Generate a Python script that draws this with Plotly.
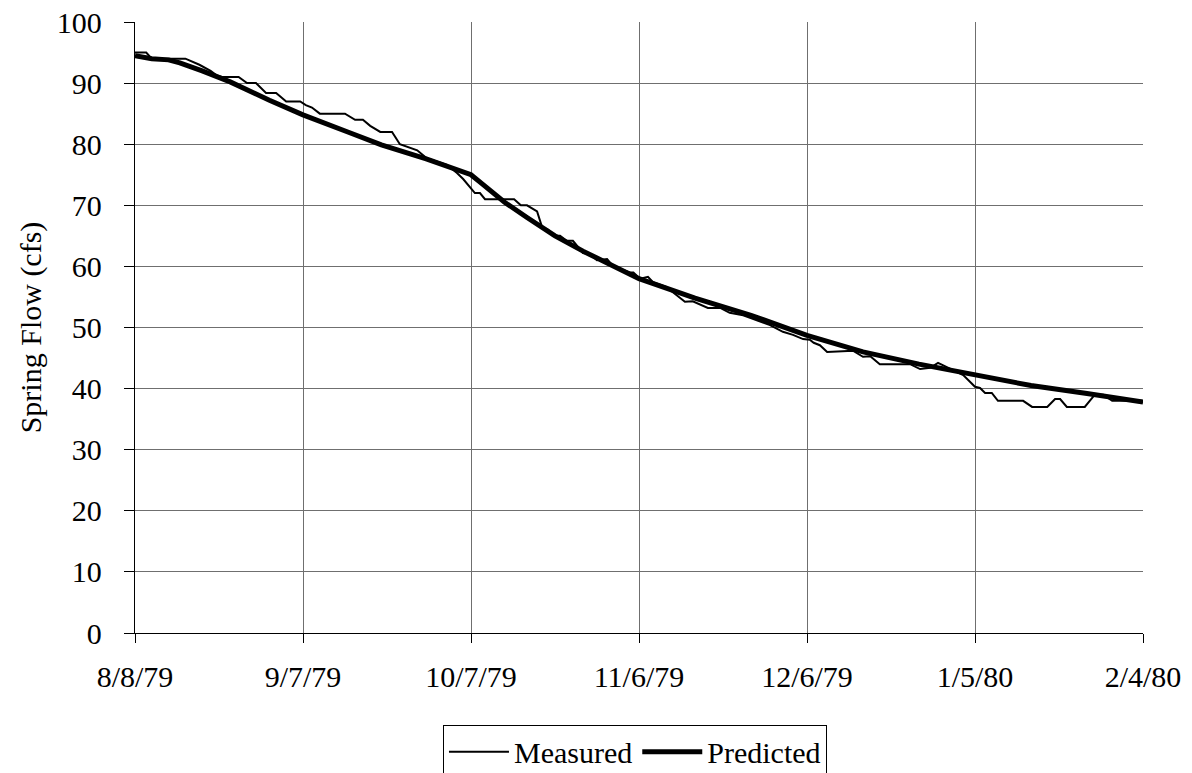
import pandas as pd
import plotly.graph_objects as go

START = pd.Timestamp("1979-08-08")

# Measured spring flow: days after 8/8/79 and flow (cfs)
measured_days = [0, 2, 3, 9, 11.5, 13.5, 14.5, 15.5, 18.5, 20, 21.6, 23.4, 25.2, 27, 29.5,
                 30.5, 31.6, 33, 37.5, 39.3, 40.7, 42, 43.8, 45.9, 47.3, 49, 50.4, 52.1,
                 54.5, 55.7, 57.5, 58.6, 60.7, 61.6, 62.5, 67.7, 68.9, 70, 71.8, 72.7,
                 73.8, 74.6, 75.9, 77.1, 78.2, 80, 81.3, 82.5, 84.3, 85.4, 88.4, 89, 90.2,
                 91.6, 92.5, 93.8, 95, 96, 98.2, 99.6, 100.9, 102.3, 104.5, 106.2, 108.6,
                 111, 113.4, 115.7, 117.5, 119.3, 120.5, 121.2, 122.3, 123.6, 128.2, 130,
                 131.3, 133, 138.4, 140.2, 142, 143.4, 144.6, 146, 147.9, 150, 150.9,
                 151.8, 153, 154.1, 158.6, 160.2, 162.9, 164.3, 165.2, 166.4, 169.6,
                 171.4, 172.9, 174.5, 179.8, 181.3]
measured_flow = [95, 95, 94, 94, 93, 92, 91.3, 91, 91, 90, 90, 88.4, 88.4, 87, 87,
                 86.4, 86, 85, 85, 84, 84, 83, 82, 82, 80, 79.4, 79, 77.7,
                 77, 76.6, 75.3, 74.3, 72, 72, 71, 71, 70, 70, 69, 66.4,
                 66, 65, 65, 64.2, 64.2, 62.2, 62, 61, 61.2, 60, 59, 59, 58,
                 58.3, 57.4, 57, 56.6, 55.8, 54.2, 54.3, 53.8, 53.2, 53.2, 52.4, 52,
                 51.2, 50.4, 49.3, 48.8, 48.1, 48, 47.5, 47.1, 46, 46.2, 45.2,
                 45.3, 44, 44, 43.2, 43.4, 44.2, 43.7, 43, 42.2, 40.3, 40.1,
                 39.3, 39.3, 38, 38, 37, 37, 38.3, 38.3, 37, 37,
                 39, 39, 38, 38, 36.5]

# Predicted spring flow
predicted_days = [0, 3, 6, 8, 12, 17, 24, 30, 38, 44, 52, 60, 62, 66, 70, 75, 80, 85,
                  90, 100, 105, 110, 120, 130, 140, 150, 160, 170, 180]
predicted_flow = [94.5, 94.0, 93.8, 93.3, 92.0, 90.2, 87.2, 84.8, 82.0, 79.9, 77.6, 75.0,
                  73.5, 70.5, 68.0, 65.0, 62.5, 60.3, 58.0, 54.8, 53.3, 52.0, 48.7, 46.0,
                  44.0, 42.2, 40.5, 39.2, 37.8]

tick_days = [0, 30, 60, 90, 120, 150, 180]
tick_labels = ["8/8/79", "9/7/79", "10/7/79", "11/6/79", "12/6/79", "1/5/80", "2/4/80"]
y_ticks = [0, 10, 20, 30, 40, 50, 60, 70, 80, 90, 100]


def to_dates(days):
    return [START + pd.Timedelta(days=d) for d in days]


FONT = "Liberation Serif"
SIZE = 30

fig = go.Figure()
fig.add_trace(go.Scatter(
    x=to_dates(measured_days), y=measured_flow, mode="lines", name="Measured",
    line=dict(color="black", width=2),
))
fig.add_trace(go.Scatter(
    x=to_dates(predicted_days), y=predicted_flow, mode="lines", name="Predicted",
    line=dict(color="black", width=5),
))

fig.update_layout(
    width=1192, height=773,
    margin=dict(l=135, r=49, t=22, b=140, autoexpand=False),
    paper_bgcolor="white", plot_bgcolor="white",
    font=dict(family=FONT, size=SIZE, color="black"),
    showlegend=True,
    legend=dict(
        orientation="h", x=0.496, xanchor="center", y=-0.15, yanchor="top",
        bordercolor="black", borderwidth=1, bgcolor="white",
        font=dict(family=FONT, size=SIZE), itemwidth=60, tracegroupgap=0,
    ),
)

fig.update_xaxes(
    range=[START, START + pd.Timedelta(days=180)],
    tickvals=to_dates(tick_days), ticktext=tick_labels,
    showgrid=True, gridcolor="#6f6f6f", gridwidth=1,
    showline=True, linecolor="black", linewidth=1.3,
    ticks="outside", ticklen=9, tickcolor="black",
    ticklabelstandoff=8, zeroline=False, automargin=False,
)
fig.update_yaxes(
    range=[0, 100], tickvals=y_ticks,
    showgrid=True, gridcolor="#6f6f6f", gridwidth=1,
    showline=True, linecolor="black", linewidth=1.3,
    ticks="outside", ticklen=10, tickcolor="black",
    ticklabelstandoff=16, zeroline=False, automargin=False,
    title=dict(text="Spring Flow (cfs)", font=dict(family=FONT, size=SIZE), standoff=6),
)

fig.write_html("out.html")
